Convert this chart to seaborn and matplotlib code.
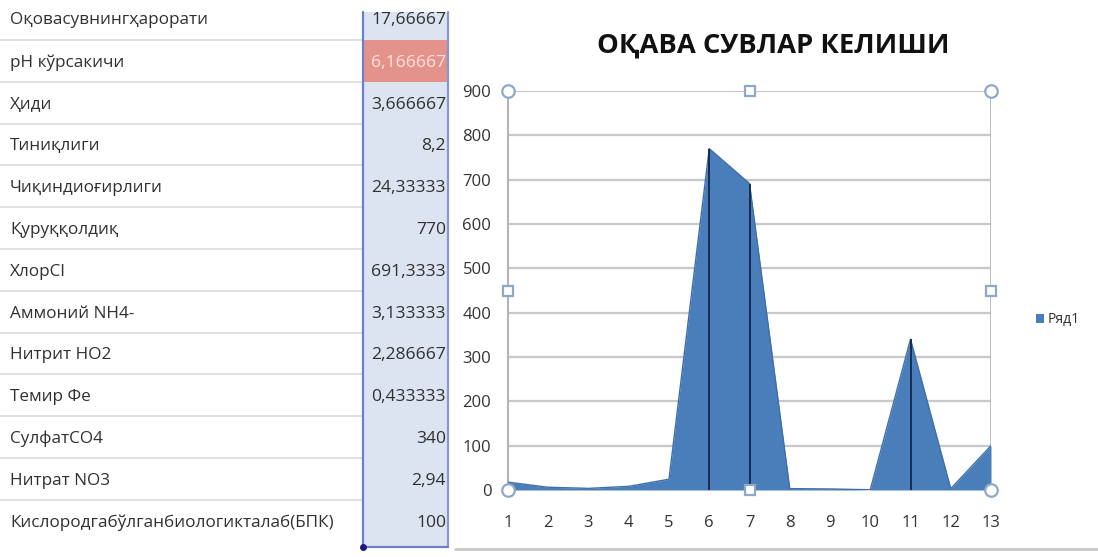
import matplotlib
matplotlib.use("Agg")
import matplotlib.pyplot as plt
import seaborn as sns
import numpy as np
import pandas as pd
from matplotlib.patches import Rectangle
from matplotlib.lines import Line2D

sns.set_theme(style="white")
plt.rcParams['font.family'] = ['Open Sans', 'Noto Sans', 'DejaVu Sans']

# ---- data ----
row_labels = [
    "Оқовасувнингҳарорати", "pH кўрсакичи", "Ҳиди", "Тиниқлиги",
    "Чиқиндиоғирлиги", "Қуруққолдиқ", "ХлорCl", "Аммоний NH4-",
    "Нитрит НО2", "Темир Фе", "СулфатСО4", "Нитрат NO3",
    "Кислородгабўлганбиологикталаб(БПК)",
]
value_text = ["17,66667", "6,166667", "3,666667", "8,2", "24,33333", "770",
              "691,3333", "3,133333", "2,286667", "0,433333", "340", "2,94", "100"]
values = [17.66667, 6.166667, 3.666667, 8.2, 24.33333, 770, 691.3333,
          3.133333, 2.286667, 0.433333, 340, 2.94, 100]
positions = list(range(1, 14))
title = "ОҚАВА СУВЛАР КЕЛИШИ"
series_name = "Ряд1"

W, H = 1098, 557
fig = plt.figure(figsize=(W / 100, H / 100), dpi=100)
fig.patch.set_facecolor("white")

def fx(px):
    return px / W

def fy(py):
    return 1 - py / H

# ---- table on the left ----
top0 = 40.0
step = 41.8
bounds = [top0 + step * k for k in range(13)]
col_l, col_r = 363, 448
fig.patches.append(Rectangle((fx(col_l), fy(bounds[-1] + 4)), fx(col_r - col_l),
                             (bounds[-1] + 4 - 12) / H, transform=fig.transFigure,
                             facecolor="#DCE4F2", edgecolor="none", zorder=0))
fig.patches.append(Rectangle((fx(col_l), fy(bounds[1])), fx(col_r - col_l),
                             (bounds[1] - bounds[0]) / H, transform=fig.transFigure,
                             facecolor="#E3938A", edgecolor="none", zorder=1))
for b in bounds[:-1]:
    fig.add_artist(Line2D([0, fx(col_l)], [fy(b), fy(b)], transform=fig.transFigure,
                          color="#DADADA", lw=1.2))
fig.add_artist(Line2D([fx(col_l), fx(col_l)], [fy(12), fy(bounds[-1] + 5)],
                      transform=fig.transFigure, color="#6E7FC4", lw=1.6, zorder=3))
fig.add_artist(Line2D([fx(col_r), fx(col_r)], [fy(12), fy(bounds[-1] + 5)],
                      transform=fig.transFigure, color="#8A97CC", lw=1.6, zorder=3))
fig.add_artist(Line2D([fx(col_l), fx(col_r)], [fy(bounds[-1] + 5), fy(bounds[-1] + 5)],
                      transform=fig.transFigure, color="#6E7FC4", lw=1.6, zorder=3))
fig.add_artist(Line2D([fx(col_l)], [fy(bounds[-1] + 5)], marker="o", ms=4,
                      color="#1A1A80", transform=fig.transFigure, zorder=4))

for i, (lab, vt) in enumerate(zip(row_labels, value_text)):
    yc = (bounds[i] - 19) if i > 0 else 20
    fig.text(fx(10), fy(yc), lab, ha="left", va="center", fontsize=12.3,
             color="#303030")
    fig.text(fx(col_r - 2), fy(yc), vt, ha="right", va="center", fontsize=12.6,
             color="#FBE3DE" if i == 1 else "#303030", zorder=5)

# ---- chart area ----
fig.add_artist(Line2D([fx(455), fx(W)], [fy(549), fy(549)], transform=fig.transFigure,
                      color="#C8C8C8", lw=2))

x0, x1 = 508, 991
y_top, y_bot = 91, 490
ax = fig.add_axes([fx(x0), fy(y_bot), fx(x1 - x0), (y_bot - y_top) / H])
df = pd.DataFrame({"x": positions, "y": values})
ax.fill_between(df["x"], 0, df["y"], color="#4A7EBB", zorder=3, lw=0,
                label=series_name)
sns.lineplot(data=df, x="x", y="y", ax=ax, color="#3F6FA8", lw=1, zorder=4,
             legend=False)
for xi in [6, 7, 11]:
    ax.vlines(xi, 0, df.loc[df.x == xi, "y"].values[0], color="#13274A", lw=1.3,
              zorder=5)

ax.set_xlim(1, 13)
ax.set_ylim(0, 900)
ax.set_xticks(positions)
ax.set_yticks(range(0, 901, 100))
ax.grid(axis="y", color="#C8C8C8", lw=1.6, zorder=0)
ax.set_xlabel("")
ax.set_ylabel("")
for s in ["top", "right", "bottom"]:
    ax.spines[s].set_visible(False)
ax.spines["left"].set_color("#B4B4B4")
ax.spines["left"].set_linewidth(1.5)
ax.tick_params(axis="both", length=0, labelsize=12, colors="#333333")
ax.tick_params(axis="y", pad=12)
ax.tick_params(axis="x", pad=18)
ax.axvline(13, color="#B4B4B4", lw=1.2, zorder=1)

for (hx, hy) in [(0, 0), (1, 0), (0, 1), (1, 1)]:
    ax.plot(hx, hy, marker="o", ms=9, mfc="white", mec="#8EA9C8", mew=1.6,
            transform=ax.transAxes, clip_on=False, zorder=10)
for (hx, hy) in [(0.5, 0), (0.5, 1), (0, 0.5), (1, 0.5)]:
    ax.plot(hx, hy, marker="s", ms=7, mfc="white", mec="#8EA9C8", mew=1.6,
            transform=ax.transAxes, clip_on=False, zorder=10)

ax.legend(loc="center left", bbox_to_anchor=(fx(1036), fy(320)),
          bbox_transform=fig.transFigure, frameon=False, fontsize=10,
          handlelength=0.6, handleheight=0.6, handletextpad=0.25,
          borderaxespad=0, borderpad=0, labelcolor="#333333")

fig.text(fx(773), fy(45), title, ha="center", va="center", fontsize=19.7,
         fontweight="bold", color="#111111")

fig.savefig("out.png", dpi=100, facecolor="white")
